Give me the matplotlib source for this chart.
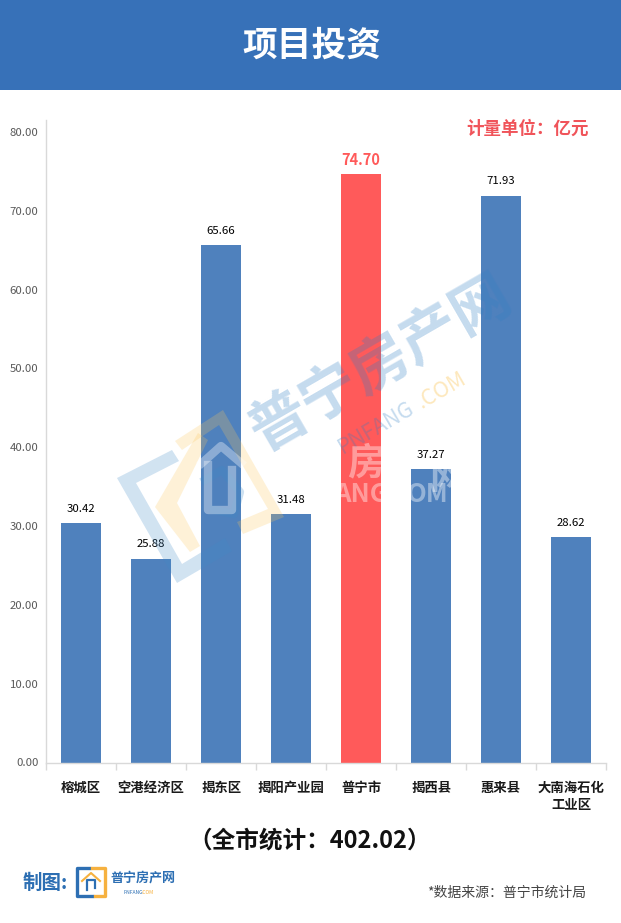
# -*- coding: utf-8 -*-
import matplotlib
matplotlib.use('Agg')
import matplotlib.pyplot as plt
from matplotlib.patches import Rectangle, Polygon
from matplotlib.lines import Line2D

plt.rcParams['font.family'] = ['Noto Sans CJK SC', 'DejaVu Sans']

#dados
areas = ['榕城区', '空港经济区', '揭东区', '揭阳产业园', '普宁市', '揭西县', '惠来县', '大南海石化\n工业区']
valores = [30.42, 25.88, 65.66, 31.48, 74.70, 37.27, 71.93, 28.62]
ticks_y = [0, 10, 20, 30, 40, 50, 60, 70, 80]
destaque = '普宁市'

AZUL = '#4f81bd'
VERMELHO = '#ff5a5a'
CINZA = '#d9d9d9'
W, H = 621, 923

fig = plt.figure(figsize=(W / 100, H / 100), dpi=100, facecolor='white')

ax = fig.add_axes([46 / W, 1 - 762.5 / H, 560 / W, 642.5 / H])
pos = list(range(len(areas)))
cores = [VERMELHO if a == destaque else AZUL for a in areas]
barras = ax.bar(pos, valores, width=40 / 70, color=cores, zorder=2)
ax.set_xlim(-0.5, len(areas) - 0.5)
ax.set_ylim(0, 81.52)
ax.set_yticks(ticks_y)
ax.set_yticklabels(['%.2f' % t for t in ticks_y], fontsize=8.2, color='#595959')
ax.set_xticks(pos)
ax.set_xticklabels(areas, fontsize=9.6, color='#1a1a1a', fontweight='bold', linespacing=1.3)
ax.set_xticks([p - 0.5 for p in pos] + [len(areas) - 0.5], minor=True)
ax.tick_params(axis='y', length=0, pad=5.5)
ax.tick_params(axis='x', which='major', length=0, pad=13)
ax.tick_params(axis='x', which='minor', length=5, color=CINZA, width=1)
for lado in ['top', 'right']:
    ax.spines[lado].set_visible(False)
for lado in ['left', 'bottom']:
    ax.spines[lado].set_color(CINZA)
    ax.spines[lado].set_linewidth(1)

#rótulos das barras
for p, v, a in zip(pos, valores, areas):
    if a == destaque:
        ax.annotate('%.2f' % v, (p, v), xytext=(0, 6.5), textcoords='offset points', ha='center',
                    fontsize=10.5, color=VERMELHO, fontweight='bold')
    else:
        ax.annotate('%.2f' % v, (p, v), xytext=(0, 8), textcoords='offset points', ha='center',
                    fontsize=8.2, color='black')

#camada em pixels para faixa, marca d'água e logo
ov = fig.add_axes([0, 0, 1, 1], facecolor='none')
ov.set_xlim(0, W)
ov.set_ylim(H, 0)
ov.axis('off')

ov.add_patch(Rectangle((0, 0), W, 90, color='#3771b8', lw=0))
ov.text(312, 45, '项目投资', color='white', fontsize=25, fontweight='bold', ha='center', va='center')
ov.text(528, 129, '计量单位：亿元', color='#f0545a', fontsize=12.6, fontweight='bold', ha='center', va='center')
ov.text(310, 840, '（全市统计：402.02）', color='#111111', fontsize=17, fontweight='bold', ha='center', va='center')
ov.text(507, 893, '*数据来源：普宁市统计局', color='#444444', fontsize=10, ha='center', va='center')

#marca d'água
azul_m = dict(color='#3f8ac8', alpha=0.24, lw=0, zorder=5)
amar_m = dict(color='#fbc65a', alpha=0.24, lw=0, zorder=5)
ov.add_patch(Polygon([(172, 450), (117, 478), (177, 583), (232, 551), (225, 538), (182, 564), (136, 483), (179, 461)], **azul_m))
ov.add_patch(Polygon([(175, 441), (223, 410), (284, 517), (243, 534), (237, 522), (268, 509), (219, 425), (182, 450)], **amar_m))
ov.add_patch(Polygon([(155, 507), (198, 433), (208, 440), (177, 503), (200, 546), (190, 552)], **amar_m))
ov.plot([205, 222, 240, 234, 214], [480, 470, 492, 514, 510], color='#3f8ac8', alpha=0.25, lw=6, zorder=5)
ov.text(380, 363, '普宁房产网', color='#2f7fc4', alpha=0.28, fontsize=42, fontweight='bold', rotation=30,
        rotation_mode='anchor', ha='center', va='center', zorder=5)
ov.text(376, 428, 'PNFANG', color='#2f7fc4', alpha=0.28, fontsize=15.5, rotation=30,
        rotation_mode='anchor', ha='center', va='center', zorder=5)
ov.text(441, 390, '.COM', color='#fbc65a', alpha=0.4, fontsize=15.5, rotation=30,
        rotation_mode='anchor', ha='center', va='center', zorder=5)

#segunda marca, branca, só os pedaços que aparecem dentro das barras
branco = dict(color='white', alpha=0.4, fontweight='bold', ha='center', va='center', zorder=6, clip_on=True)
i_red = areas.index(destaque)
i_jx = areas.index('揭西县')
ov.text(366, 463, '房', fontsize=27, **branco).set_clip_path(barras[i_red])
ov.text(361, 495, 'ANG', fontsize=18.5, **branco).set_clip_path(barras[i_red])
ov.text(448, 477, '网', fontsize=27, **branco).set_clip_path(barras[i_jx])
ov.text(428, 495, 'OM', fontsize=18.5, **branco).set_clip_path(barras[i_jx])
ov.plot([202, 221, 241], [463, 446, 463], color='white', alpha=0.35, lw=6, zorder=6)
ov.plot([208, 208, 232, 232], [465, 510, 510, 470], color='white', alpha=0.35, lw=6, zorder=6)

#logo do rodapé
ov.text(45, 883, '制图:', color='#2d6fb3', fontsize=14, fontweight='bold', ha='center', va='center')
ov.add_line(Line2D([89, 77, 77, 92], [868, 868, 896, 896], color='#2d6fb3', lw=2.4))
ov.add_line(Line2D([92, 105, 105, 95], [868, 868, 896, 896], color='#f6b13f', lw=2.4))
ov.add_line(Line2D([82, 91, 100], [881, 873, 881], color='#f6b13f', lw=1.5))
ov.add_line(Line2D([87, 87, 95, 95], [890, 880, 880, 888], color='#2d6fb3', lw=1.6))
ov.text(142.5, 878, '普宁房产网', color='#2d6fb3', fontsize=9.4, fontweight='bold', ha='center', va='center')
ov.text(123, 892, 'PNFANG', color='#2d6fb3', fontsize=3.6, ha='left', va='center')
ov.text(142, 892, '.COM', color='#f6b13f', fontsize=3.6, ha='left', va='center')

fig.savefig('out.png', dpi=100)
